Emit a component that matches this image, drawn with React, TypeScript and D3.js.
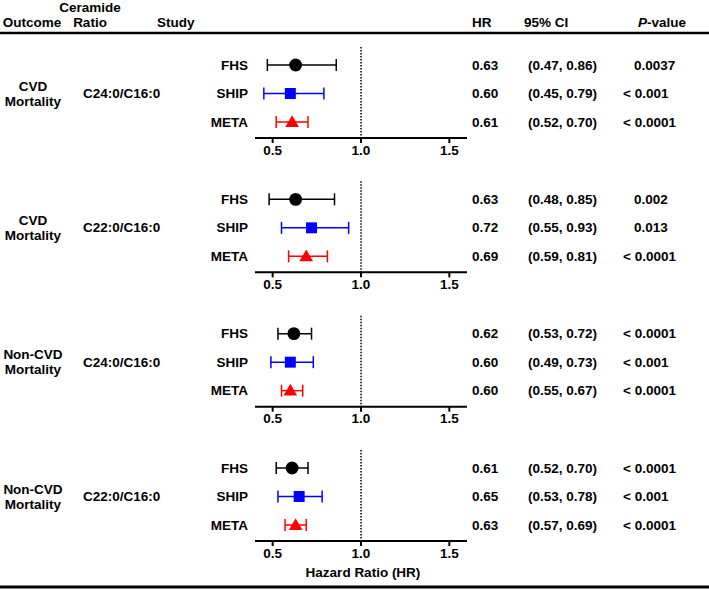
import React from "react";
import * as d3 from "d3";

const outcomes = ["CVD|Mortality", "CVD|Mortality", "Non-CVD|Mortality", "Non-CVD|Mortality"];
const ratios = ["C24:0/C16:0", "C22:0/C16:0", "C24:0/C16:0", "C22:0/C16:0"];
const studies = ["FHS", "SHIP", "META"];
const hr = [
  [0.63, 0.60, 0.61],
  [0.63, 0.72, 0.69],
  [0.62, 0.60, 0.60],
  [0.61, 0.65, 0.63],
];
const ciLow = [
  [0.47, 0.45, 0.52],
  [0.48, 0.55, 0.59],
  [0.53, 0.49, 0.55],
  [0.52, 0.53, 0.57],
];
const ciHigh = [
  [0.86, 0.79, 0.70],
  [0.85, 0.93, 0.81],
  [0.72, 0.73, 0.67],
  [0.70, 0.78, 0.69],
];
const pValues = [
  ["0.0037", "< 0.001", "< 0.0001"],
  ["0.002", "0.013", "< 0.0001"],
  ["< 0.0001", "< 0.001", "< 0.0001"],
  ["< 0.0001", "< 0.001", "< 0.0001"],
];
const ticks = [0.5, 1.0, 1.5];
const colors = ["#000000", "#0000ff", "#ff0000"];

const W = 709;
const H = 590;
const FONT = "'Liberation Sans', Arial, Helvetica, sans-serif";
const FS = 13.5;

export default function App() {
  const x = d3.scaleLinear().domain([0.4, 1.6]).range([255, 467]);
  const panel = d3.scaleLinear().domain([0, 3]).range([0, 403]);
  const row = d3.scalePoint<string>().domain(studies).range([65, 122]);
  const axisY = 138;
  const dotTop = 47;
  const fmt = d3.format(".2f");
  const sym = [d3.symbolCircle, d3.symbolSquare, d3.symbolTriangle];
  const symSize = [130, 120, 80];
  const cap = 6;

  return (
    <svg width={W} height={H} style={{ position: "absolute", left: 0, top: 0, background: "#fff" }}
      fontFamily={FONT} fontWeight="bold" fontSize={FS}>
      <rect x={0} y={0} width={W} height={H} fill="#fff" />
      {/* header */}
      <text x={32} y={27} textAnchor="middle">Outcome</text>
      <text x={90} y={12} textAnchor="middle">Ceramide</text>
      <text x={90} y={27} textAnchor="middle">Ratio</text>
      <text x={157} y={27}>Study</text>
      <text x={472} y={27}>HR</text>
      <text x={524} y={27}>95% CI</text>
      <text x={638} y={27}><tspan fontStyle="italic">P</tspan>-value</text>
      <line x1={0} x2={W} y1={33} y2={33} stroke="#000" strokeWidth={2.5} />
      <line x1={0} x2={W} y1={587} y2={587} stroke="#000" strokeWidth={3} />

      {hr.map((vals, p) => {
        const off = panel(p);
        const midY = off + (row("SHIP") as number);
        const [l1, l2] = outcomes[p].split("|");
        return (
          <g key={p}>
            <text x={33} y={midY - 7.5} textAnchor="middle" dominantBaseline="central">{l1}</text>
            <text x={33} y={midY + 7.5} textAnchor="middle" dominantBaseline="central">{l2}</text>
            <text x={83} y={midY} dominantBaseline="central">{ratios[p]}</text>
            {/* reference line */}
            <line x1={x(1)} x2={x(1)} y1={off + dotTop} y2={off + axisY} stroke="#000"
              strokeWidth={1.5} strokeDasharray="1.5,1.5" />
            {/* axis */}
            <line x1={x.range()[0]} x2={x.range()[1]} y1={off + axisY} y2={off + axisY}
              stroke="#000" strokeWidth={2} />
            {ticks.map((t) => (
              <g key={t}>
                <line x1={x(t)} x2={x(t)} y1={off + axisY} y2={off + axisY + 5} stroke="#000" strokeWidth={2} />
                <text x={x(t)} y={off + axisY + 12} textAnchor="middle" dominantBaseline="central">{t.toFixed(1)}</text>
              </g>
            ))}
            {studies.map((s, i) => {
              const y = off + (row(s) as number);
              const c = colors[i];
              const path = d3.symbol().type(sym[i]).size(symSize[i])() as string;
              return (
                <g key={s}>
                  <text x={248} y={y} textAnchor="end" dominantBaseline="central">{s}</text>
                  <line x1={x(ciLow[p][i])} x2={x(ciHigh[p][i])} y1={y} y2={y} stroke={c} strokeWidth={1.5} />
                  <line x1={x(ciLow[p][i])} x2={x(ciLow[p][i])} y1={y - cap} y2={y + cap} stroke={c} strokeWidth={1.5} />
                  <line x1={x(ciHigh[p][i])} x2={x(ciHigh[p][i])} y1={y - cap} y2={y + cap} stroke={c} strokeWidth={1.5} />
                  <path d={path} transform={`translate(${x(vals[i])},${y + (i === 2 ? 1 : 0)})`} fill={c} />
                  <text x={472} y={y} dominantBaseline="central">{fmt(vals[i])}</text>
                  <text x={528} y={y} dominantBaseline="central">({fmt(ciLow[p][i])}, {fmt(ciHigh[p][i])})</text>
                  <text x={pValues[p][i].startsWith("<") ? 623 : 634} y={y} dominantBaseline="central">{pValues[p][i]}</text>
                </g>
              );
            })}
          </g>
        );
      })}
      <text x={363} y={572} textAnchor="middle" dominantBaseline="central">Hazard Ratio (HR)</text>
    </svg>
  );
}
